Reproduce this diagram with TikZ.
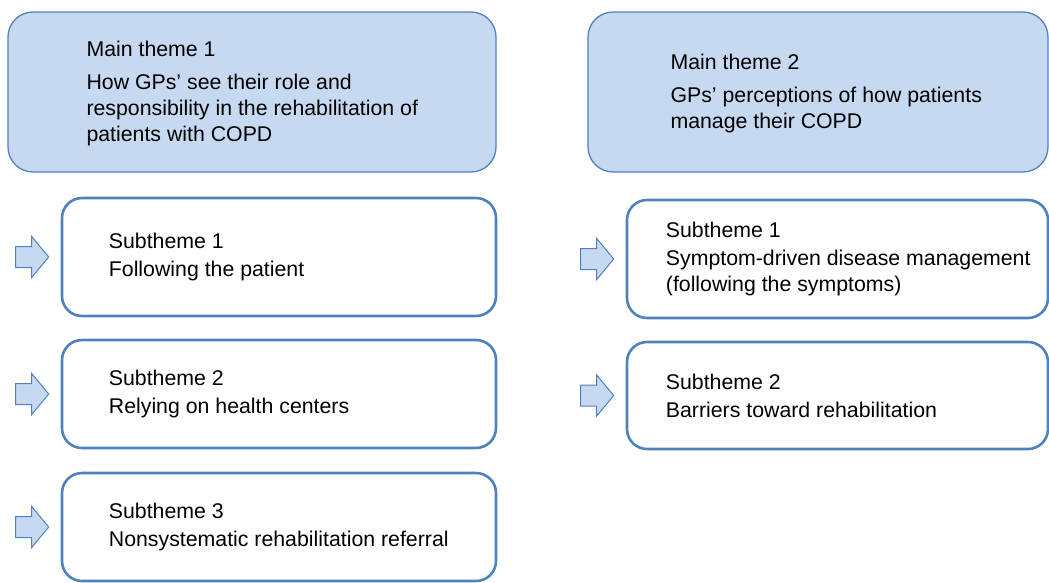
\documentclass[tikz,border=0pt]{standalone}
\usepackage{fontspec}
\setmainfont{Liberation Sans}
\definecolor{themefill}{HTML}{C6D9F1}
\definecolor{themeline}{HTML}{4F81BD}

\begin{document}
\begin{tikzpicture}[x=1pt,y=-1pt,
  mainbox/.style={draw=themeline, fill=themefill, line width=1.3pt,
    rounded corners=25pt, minimum width=#1, minimum height=160pt, inner sep=0pt},
  subbox/.style={draw=themeline, line width=2.6pt, rounded corners=20pt,
    minimum width=#1, inner sep=0pt},
  themetext/.style={anchor=west, inner sep=0pt, align=left,
    font=\fontsize{21.3}{26}\selectfont},
  arrowfill/.style={draw=themeline, fill=themefill, line width=1pt, line join=miter}]

\useasboundingbox (0,0) rectangle (1049,582);

% main themes
\node[mainbox=488pt] (main1) at (252,92) {};
\node[mainbox=460pt] (main2) at (818,92) {};

\node[themetext] (main1txt) at ([xshift=79pt,yshift=-1pt]main1.west)
  {Main theme 1\\[7pt]How GPs’ see their role and\\responsibility in the rehabilitation of\\patients with COPD};
\node[themetext] (main2txt) at ([xshift=83pt,yshift=-1pt]main2.west)
  {Main theme 2\\[7pt]GPs’ perceptions of how patients\\manage their COPD};

% subthemes
\node[subbox=434pt, minimum height=118pt] (lsub1) at (279,257) {};
\node[subbox=434pt, minimum height=108pt] (lsub2) at (279,394) {};
\node[subbox=434pt, minimum height=108pt] (lsub3) at (279,527) {};
\node[subbox=421pt, minimum height=118pt] (rsub1) at (837.5,259) {};
\node[subbox=421pt, minimum height=107pt] (rsub2) at (837.5,395.5) {};

\node[themetext] (lsub1txt) at ([xshift=48pt]lsub1.west) {Subtheme 1\\[2pt]Following the patient};
\node[themetext] (lsub2txt) at ([xshift=48pt]lsub2.west) {Subtheme 2\\[2pt]Relying on health centers};
\node[themetext] (lsub3txt) at ([xshift=48pt]lsub3.west) {Subtheme 3\\[2pt]Nonsystematic rehabilitation referral};
\node[themetext] (rsub1txt) at ([xshift=40pt]rsub1.west)
  {Subtheme 1\\[2pt]Symptom-driven disease management\\(following the symptoms)};
\node[themetext] (rsub2txt) at ([xshift=40pt]rsub2.west) {Subtheme 2\\[2pt]Barriers toward rehabilitation};

% block arrows in front of the subthemes
\foreach \b in {lsub1,lsub2,lsub3,rsub1,rsub2}
  \draw[arrowfill] ([xshift=-45pt]\b.west) ++(0,-10.5) -- ++(16,0) -- ++(0,-10)
    -- ++(17,20.5) -- ++(-17,20.5) -- ++(0,-10) -- ++(-16,0) -- cycle;

\end{tikzpicture}
\end{document}
